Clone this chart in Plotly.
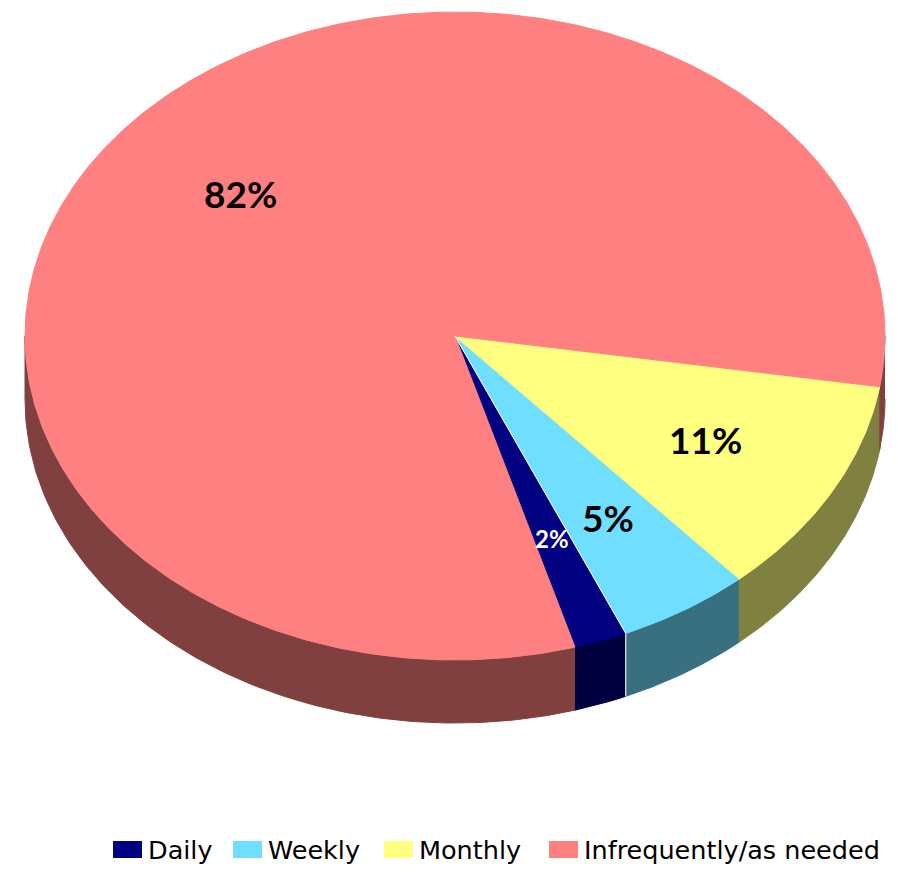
import numpy as np
import plotly.graph_objects as go

# ---- data ----
categories = ["Daily", "Weekly", "Monthly", "Infrequently/as needed"]
values = [2, 5, 11, 82]

# ---- style ----
top_colors = ["#000080", "#70DFFF", "#FFFF80", "#FF8080"]
side_colors = ["#000040", "#387080", "#808040", "#804040"]
label_colors = ["#FFFFFF", "#000000", "#000000", "#000000"]
label_sizes = [24, 37, 37, 37]
FONT = "Lato"
LEG_FONT = "DejaVu Sans"

W, H = 898, 872
CX, CY = 455, 336          # pie centre (px)
RX, RY = 430, 324          # ellipse radii of top face
DEPTH = 63                 # thickness of the pie
START = 73.8               # screen angle (deg, clockwise from east) where first slice starts
LABEL_R = 0.665


def ex(t):
    return CX + RX * np.cos(np.radians(t))


def ey(t, d=0):
    return CY + RY * np.sin(np.radians(t)) + d


fig = go.Figure()

total = float(sum(values))
spans = []
cur = START
for v in values:
    ang = 360.0 * v / total
    spans.append((cur - ang, cur))   # slices run counter-clockwise on screen
    cur -= ang

# ---- side walls (front half only) ----
for (a, b), col in zip(spans, side_colors):
    for k in (-1, 0, 1):
        lo, hi = max(a, 360 * k), min(b, 360 * k + 180)
        if hi > lo:
            t = np.linspace(lo, hi, 120)
            xs = np.concatenate([ex(t), ex(t[::-1])])
            ys = np.concatenate([ey(t), ey(t[::-1], DEPTH)])
            fig.add_trace(go.Scatter(x=xs, y=ys, mode="lines", fill="toself",
                                     fillcolor=col, line=dict(color=col, width=1),
                                     hoverinfo="skip", showlegend=False))

# ---- top faces ----
for (a, b), col, name in zip(spans, top_colors, categories):
    t = np.linspace(a, b, max(int((b - a) * 2), 20))
    xs = np.concatenate([[CX], ex(t), [CX]])
    ys = np.concatenate([[CY], ey(t), [CY]])
    fig.add_trace(go.Scatter(x=xs, y=ys, mode="lines", fill="toself",
                             fillcolor=col, line=dict(color=col, width=1),
                             name=name, hoverinfo="skip", showlegend=False))

# thin white seam between Daily and Weekly
seam = spans[0][0]
fig.add_trace(go.Scatter(x=[CX, ex(seam), ex(seam)], y=[CY, ey(seam), ey(seam, DEPTH)],
                         mode="lines", line=dict(color="white", width=1),
                         hoverinfo="skip", showlegend=False))

# ---- percentage labels ----
for (a, b), v, c, s in zip(spans, values, label_colors, label_sizes):
    m = (a + b) / 2
    lx = CX + LABEL_R * RX * np.cos(np.radians(m))
    ly = CY + LABEL_R * RY * np.sin(np.radians(m))
    fig.add_annotation(x=lx, y=ly, xref="x", yref="y", text=f"<b>{v}%</b>",
                       showarrow=False, font=dict(family=FONT, size=s, color=c))

# ---- legend (drawn manually) ----
legend_box_x = [113, 233, 384, 549]
BOX_W, BOX_H = 29, 17
LEG_Y = 849.5
for bx, col, name in zip(legend_box_x, top_colors, categories):
    fig.add_shape(type="rect", xref="x", yref="y", x0=bx, x1=bx + BOX_W,
                  y0=LEG_Y - BOX_H / 2, y1=LEG_Y + BOX_H / 2,
                  fillcolor=col, line=dict(width=0))
    fig.add_annotation(x=bx + BOX_W + 4, y=LEG_Y, xref="x", yref="y", text=name,
                       showarrow=False, xanchor="left", yanchor="middle",
                       font=dict(family=LEG_FONT, size=25.5, color="#000000"))

fig.update_layout(
    width=W, height=H,
    margin=dict(l=0, r=0, t=0, b=0),
    paper_bgcolor="white", plot_bgcolor="white",
    xaxis=dict(range=[0, W], visible=False, fixedrange=True),
    yaxis=dict(range=[H, 0], visible=False, fixedrange=True),
    showlegend=False,
)

fig.write_html("out.html", config={"displayModeBar": False},
               post_script="document.body.style.margin='0px';")
